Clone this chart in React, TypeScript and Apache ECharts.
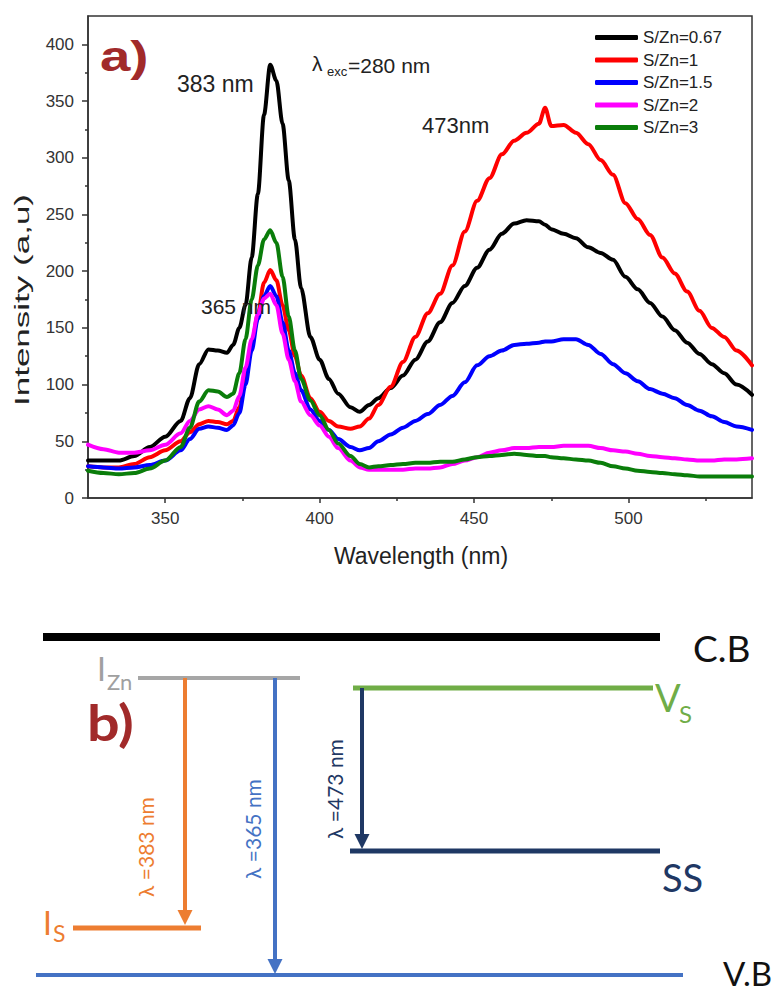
import React, { useEffect, useRef } from 'react';
import * as echarts from 'echarts';

// Wavelength grid (nm)
const WAVELENGTH = [
  325, 330, 335, 340, 345, 350, 355, 358, 361, 364, 367, 370, 372, 374, 376, 378, 380, 382, 384, 386, 388, 390, 392, 394, 397, 400, 403, 406, 410, 413, 416, 419, 423,
  427, 431, 435, 439, 443, 447, 451, 455, 459, 463, 467, 471, 473, 475, 479, 483, 487, 491, 495, 499, 503, 507, 511, 515, 519, 523, 527, 531, 535, 540,
];

const S_ZN_067 = [
  33, 33, 33, 37, 45, 54, 68, 88, 118, 131, 130, 128, 135, 150, 170, 212, 268, 338, 382, 368, 330, 280, 228, 185, 142, 122, 105, 92, 80, 76, 82, 88, 97,
  108, 122, 138, 155, 172, 187, 203, 219, 233, 242, 245, 244, 241, 237, 233, 229, 221, 216, 210, 195, 184, 172, 160, 148, 137, 127, 118, 110, 100, 91,
];
const S_ZN_1 = [
  28, 27, 27, 30, 36, 42, 50, 58, 65, 68, 67, 65, 68, 80, 105, 135, 162, 190, 201, 192, 170, 148, 125, 108, 88, 76, 68, 63, 61, 63, 70, 82, 98,
  120, 142, 163, 180, 205, 235, 262, 282, 303, 315, 322, 330, 344, 328, 329, 322, 312, 298, 285, 260, 246, 232, 212, 198, 182, 165, 150, 142, 130, 117,
];
const S_ZN_15 = [
  28, 27, 26, 27, 29, 33, 42, 52, 61, 63, 62, 60, 64, 75, 100, 130, 158, 178, 187, 178, 155, 130, 110, 95, 78, 68, 60, 52, 45, 42, 44, 50, 56,
  62, 68, 74, 82, 90, 102, 117, 125, 130, 135, 136, 137, 138, 138, 140, 140, 135, 127, 118, 110, 103, 96, 92, 88, 82, 77, 72, 67, 63, 60,
];
const S_ZN_2 = [
  47, 43, 40, 40, 42, 47, 57, 68, 78, 81, 78, 73, 77, 90, 115, 140, 162, 176, 180, 170, 145, 122, 103, 85, 73, 64, 54, 44, 33, 27, 25, 25, 25,
  25, 26, 26, 27, 30, 33, 36, 40, 42, 44, 44, 45, 45, 45, 46, 46, 46, 44, 42, 41, 39, 37, 36, 35, 34, 33, 33, 34, 34, 35,
];
const S_ZN_3 = [
  24, 22, 21, 22, 26, 33, 45, 62, 85, 95, 94, 89, 92, 110, 140, 175, 205, 228, 236, 225, 195, 160, 130, 105, 86, 73, 60, 48, 37, 30, 27, 28, 29,
  30, 31, 31, 32, 32, 34, 36, 37, 38, 39, 38, 37, 37, 36, 35, 34, 33, 31, 28, 26, 24, 23, 22, 21, 20, 19, 19, 19, 19, 19,
];

const SERIES_NAMES = ['S/Zn=0.67', 'S/Zn=1', 'S/Zn=1.5', 'S/Zn=2', 'S/Zn=3'];
const SERIES_VALUES = [S_ZN_067, S_ZN_1, S_ZN_15, S_ZN_2, S_ZN_3];
const SERIES_COLORS = ['#000000', '#ff0000', '#0000ff', '#ff00ff', '#0a7d0a'];

const X_TICKS = [350, 400, 450, 500];
const X_MINOR_TICKS = [375, 425, 475, 525];
const Y_TICKS = [0, 50, 100, 150, 200, 250, 300, 350, 400];
const Y_MINOR_TICKS = [25, 75, 125, 175, 225, 275, 325, 375];

const SANS = '"Liberation Sans", Arial, sans-serif';
const CAL = 'Lato, "Noto Sans", sans-serif';
const AXIS_COLOR = '#333';

function txt(text: string, x: number, y: number, size: number, color: string, o: any = {}) {
  const align = o.align || 'left';
  return {
    type: 'text',
    x,
    y,
    rotation: o.rotation || 0,
    scaleX: o.scaleX || 1,
    silent: true,
    z: 100,
    style: {
      text,
      fill: color,
      fontSize: size,
      fontFamily: o.family || SANS,
      fontWeight: o.weight || 'normal',
      textAlign: align,
      align,
      textVerticalAlign: 'middle',
      verticalAlign: 'middle',
    },
  };
}

function hline(x1: number, x2: number, y: number, w: number, color: string) {
  return { type: 'line', silent: true, shape: { x1, y1: y, x2, y2: y }, style: { stroke: color, lineWidth: w } };
}

function arrow(x: number, y1: number, y2: number, color: string) {
  return [
    { type: 'line', silent: true, shape: { x1: x, y1, x2: x, y2: y2 - 12 }, style: { stroke: color, lineWidth: 4 } },
    {
      type: 'polygon',
      silent: true,
      shape: { points: [[x - 7.5, y2 - 15], [x + 7.5, y2 - 15], [x, y2]] },
      style: { fill: color },
    },
  ];
}

export default function App() {
  const ref = useRef<HTMLDivElement>(null);

  useEffect(() => {
    if (!ref.current) return;
    const chart = echarts.init(ref.current, undefined, { renderer: 'svg' });

    const tickLine = { color: AXIS_COLOR, width: 1.5 };

    const graphic: any[] = [
      // panel a annotations
      txt('a)', 100, 56, 42, '#a12a2a', { weight: 'bold', scaleX: 1.3 }),
      txt('383 nm', 177, 84, 23, '#222'),
      txt('λ', 312, 63, 21, '#222'),
      txt('exc', 327, 71, 13, '#222'),
      txt('=280 nm', 348, 65, 21, '#222'),
      txt('473nm', 422, 125, 22, '#222'),
      txt('365 nm', 201, 306, 21, '#222'),
      txt('Wavelength (nm)', 421, 556, 23, '#222', { align: 'center' }),
      txt('Intensity (a,u)', 22, 300, 20, '#222', { align: 'center', rotation: Math.PI / 2, scaleX: 1.75 }),

      // panel b: energy diagram
      hline(43, 660, 637, 8, '#000'),
      txt('C.B', 693, 647, 37, '#111', { family: CAL }),
      hline(138, 300, 678, 4, '#a6a6a6'),
      txt('I', 97, 668, 32, '#a0a0a0', { family: CAL }),
      txt('Zn', 107, 681, 22, '#a0a0a0', { family: CAL }),
      txt('b)', 87, 722, 50, '#a12a2a', { family: CAL, weight: 'bold', scaleX: 1.15 }),
      ...arrow(185, 678, 925, '#ed7d31'),
      hline(73, 201, 928, 5, '#ed7d31'),
      txt('I', 43, 922, 32, '#ed7d31', { family: CAL }),
      txt('S', 53, 933, 23, '#ed7d31', { family: CAL }),
      txt('λ =383 nm', 145, 847, 21, '#ed7d31', { family: CAL, align: 'center', rotation: Math.PI / 2 }),
      ...arrow(275, 678, 974, '#4472c4'),
      hline(36, 683, 975, 4, '#4472c4'),
      txt('V.B', 723, 973, 33, '#111', { family: CAL }),
      txt('λ =365 nm', 252, 829, 21, '#4472c4', { family: CAL, align: 'center', rotation: Math.PI / 2 }),
      hline(353, 653, 688, 5, '#70ad47'),
      txt('V', 655, 697, 38, '#70ad47', { family: CAL }),
      txt('S', 679, 713, 24, '#70ad47', { family: CAL }),
      ...arrow(362, 688, 849, '#1f3864'),
      hline(350, 660, 851, 5, '#1f3864'),
      txt('SS', 662, 877, 38, '#1f3864', { family: CAL }),
      txt('λ =473 nm', 334, 789, 21, '#1f3864', { family: CAL, align: 'center', rotation: Math.PI / 2 }),
    ];

    chart.setOption({
      animation: false,
      backgroundColor: '#fff',
      grid: {
        left: 88,
        right: 28,
        top: 16,
        height: 482,
        show: true,
        borderColor: AXIS_COLOR,
        borderWidth: 1.5,
        backgroundColor: 'transparent',
      },
      legend: {
        orient: 'vertical',
        left: 590,
        top: 24,
        itemWidth: 43,
        itemHeight: 5,
        itemGap: 5.5,
        icon: 'roundRect',
        textStyle: { fontSize: 17, fontFamily: SANS, color: '#222', lineHeight: 17 },
        data: SERIES_NAMES,
      },
      xAxis: [
        {
          type: 'value',
          min: 325,
          max: 540,
          position: 'bottom',
          axisLine: { show: true, lineStyle: tickLine },
          axisTick: { show: true, length: 5, customValues: X_TICKS, lineStyle: tickLine },
          axisLabel: { customValues: X_TICKS, fontSize: 17, fontFamily: SANS, color: '#333', margin: 12 },
          splitLine: { show: false },
        },
        {
          type: 'value',
          min: 325,
          max: 540,
          position: 'bottom',
          axisLine: { show: false },
          axisTick: { show: true, length: 3, customValues: X_MINOR_TICKS, lineStyle: tickLine },
          axisLabel: { show: false },
          splitLine: { show: false },
        },
      ],
      yAxis: [
        {
          type: 'value',
          min: 0,
          max: 425,
          position: 'left',
          axisLine: { show: true, lineStyle: tickLine },
          axisTick: { show: true, length: 6, customValues: Y_TICKS, lineStyle: tickLine },
          axisLabel: { customValues: Y_TICKS, fontSize: 17, fontFamily: SANS, color: '#333', margin: 14 },
          splitLine: { show: false },
        },
        {
          type: 'value',
          min: 0,
          max: 425,
          position: 'left',
          axisLine: { show: false },
          axisTick: { show: true, length: 3, customValues: Y_MINOR_TICKS, lineStyle: tickLine },
          axisLabel: { show: false },
          splitLine: { show: false },
        },
      ],
      series: SERIES_NAMES.map((name, i) => ({
        type: 'line',
        name,
        xAxisIndex: 0,
        yAxisIndex: 0,
        data: WAVELENGTH.map((x, j) => [x, SERIES_VALUES[i][j]]),
        showSymbol: false,
        symbol: 'none',
        smooth: 0.3,
        smoothMonotone: 'x',
        lineStyle: { width: 4, color: SERIES_COLORS[i], cap: 'round', join: 'round' },
        itemStyle: { color: SERIES_COLORS[i] },
        z: 2 + i,
      })),
      graphic,
    });

    return () => chart.dispose();
  }, []);

  return <div ref={ref} style={{ position: 'absolute', left: 0, top: 0, width: 780, height: 992 }} />;
}
